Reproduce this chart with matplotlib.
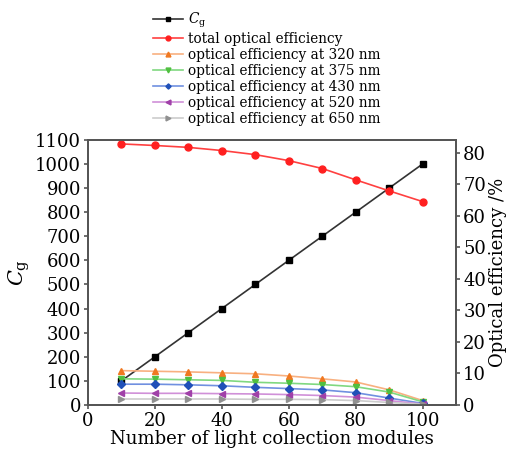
import matplotlib
matplotlib.use("Agg")
import matplotlib.pyplot as plt

plt.rcParams["font.family"] = "DejaVu Serif"
plt.rcParams["mathtext.fontset"] = "dejavuserif"

modules = [10, 20, 30, 40, 50, 60, 70, 80, 90, 100]
cg = [100, 200, 300, 400, 500, 600, 700, 800, 900, 1000]
eff_total = [82.8, 82.3, 81.7, 80.7, 79.4, 77.5, 75.0, 71.4, 67.9, 64.5]
eff_320 = [10.9, 10.7, 10.5, 10.2, 9.9, 9.2, 8.3, 7.3, 4.8, 1.4]
eff_375 = [8.3, 8.2, 8.0, 7.8, 7.2, 6.9, 6.5, 5.8, 4.1, 1.0]
eff_430 = [6.6, 6.6, 6.4, 6.1, 5.6, 5.2, 4.8, 3.9, 2.2, 0.5]
eff_520 = [3.8, 3.7, 3.7, 3.6, 3.5, 3.3, 3.0, 2.5, 1.4, 0.3]
eff_650 = [1.9, 1.9, 1.9, 1.9, 1.8, 1.8, 1.7, 1.4, 0.8, 0.2]

fig = plt.figure(figsize=(5.08, 4.51), dpi=100)
ax = fig.add_axes([0.173, 0.102, 0.725, 0.588])
ax2 = ax.twinx()

handles = []
h, = ax.plot(modules, cg, color="#333333", lw=1.2, marker="s", ms=4.5,
             mfc="black", mec="black", label=r"$C_\mathrm{g}$")
handles.append(h)

series = [
    (eff_total, "total optical efficiency", "o", "#ff4040", "#ff2020"),
    (eff_320, "optical efficiency at 320 nm", "^", "#f8b080", "#f07820"),
    (eff_375, "optical efficiency at 375 nm", "v", "#80d880", "#50c040"),
    (eff_430, "optical efficiency at 430 nm", "D", "#7090e0", "#2050b8"),
    (eff_520, "optical efficiency at 520 nm", "<", "#d090d8", "#a040a8"),
    (eff_650, "optical efficiency at 650 nm", ">", "#cccccc", "#909090"),
]
for vals, label, mk, lc, mc in series:
    ms = 3.8 if mk == "D" else 5
    h, = ax2.plot(modules, vals, color=lc, lw=1.2, marker=mk, ms=ms,
                  mfc=mc, mec=mc, label=label)
    handles.append(h)

ax.set_xlim(0, 110)
ax.set_ylim(0, 1100)
ax2.set_ylim(0, 84.1)
ax.set_xticks([0, 20, 40, 60, 80, 100])
ax.set_yticks(range(0, 1101, 100))
ax2.set_yticks(range(0, 81, 10))

for a in (ax, ax2):
    for s in a.spines.values():
        s.set_color("#555555")
        s.set_linewidth(1.3)
    a.tick_params(labelsize=13, direction="out", length=3, width=1.2,
                  color="#555555", pad=2)

ax.set_xlabel("Number of light collection modules", fontsize=13, labelpad=0)
ax.set_ylabel(r"$C_\mathrm{g}$", fontsize=15, labelpad=2)
ax2.set_ylabel("Optical efficiency /%", fontsize=13, labelpad=2)

fig.legend(handles=handles, loc="upper left", bbox_to_anchor=(0.285, 0.995),
           frameon=False, fontsize=9.8, handlelength=2.2, handletextpad=0.4,
           labelspacing=0.15, borderaxespad=0.2, markerscale=0.7)

fig.savefig("out.png", dpi=100)
